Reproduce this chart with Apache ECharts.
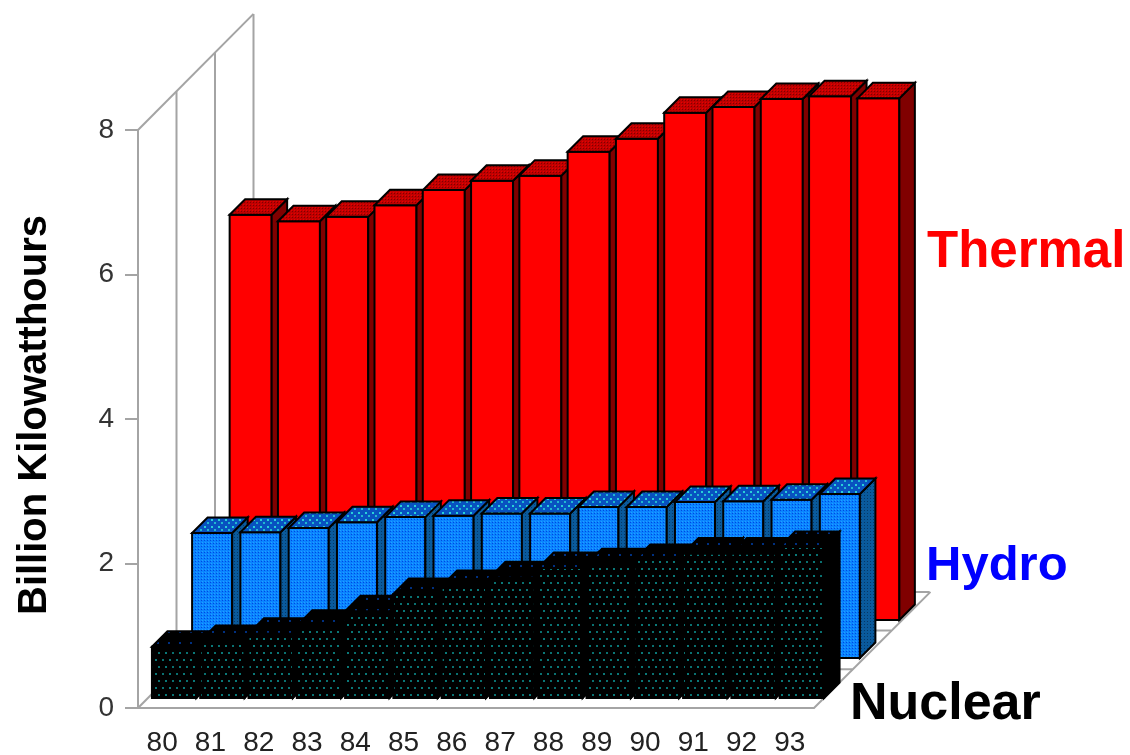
<!DOCTYPE html>
<html><head><meta charset="utf-8">
<style>html,body{margin:0;padding:0;background:#fff}#c{width:1130px;height:755px}</style>
<script src="https://cdn.jsdelivr.net/npm/echarts@6/dist/echarts.min.js"></script>
</head><body><div id="c"></div>
<script>
const categories = ['80','81','82','83','84','85','86','87','88','89','90','91','92','93'];
const thermal = [5.61,5.52,5.58,5.74,5.95,6.08,6.15,6.48,6.66,7.02,7.10,7.21,7.25,7.22];
const hydro = [1.73,1.74,1.80,1.88,1.95,1.97,2.00,2.00,2.09,2.09,2.16,2.17,2.19,2.27];
const nuclear = [0.71,0.79,0.89,1.00,1.20,1.44,1.55,1.67,1.80,1.85,1.91,2.00,2.00,2.09];
const seriesNames = ['Thermal','Hydro','Nuclear'];

function pat(size, bg, dots){
  const c=document.createElement('canvas');c.width=c.height=size;
  const g=c.getContext('2d');g.fillStyle=bg;g.fillRect(0,0,size,size);
  dots.forEach(d=>{g.fillStyle=d[2];g.fillRect(d[0],d[1],d[3]||1,d[3]||1);});
  return {image:c,repeat:'repeat'};
}
const looks = {
  Thermal:{front:'#ff0000',side:'#800000',w:0.87,top:pat(3,'#c00000',[[0,0,'#e80000'],[1,1,'#800000']])},
  Hydro:{front:pat(3,'#0a84ff',[[0,0,'#0048e0'],[1,2,'#20a0ff']]),w:0.83,
         side:pat(3,'#0a5a9c',[[0,0,'#053868']]),
         top:pat(7,'#0852c0',[[1,1,'#28d0d8',2],[4,4,'#20b8d0',2]])},
  Nuclear:{front:pat(14,'#000000',[[1,1,'#0a7878',2],[8,1,'#0a7070',2],[4,8,'#0a7070',2],[11,8,'#0a7878',2]]),w:0.92,
           side:'#000000',
           top:pat(11,'#000000',[[3,4,'#003080',2]])}
};
const shifts = {Thermal:[88.5,-88],Hydro:[50,-50],Nuclear:[12,-10]};
const depth = [15.5,-15.5];

function barItem(name){
  return function(params,api){
    const i=api.value(0), v=api.value(1);
    const top=api.coord([i,v]), base=api.coord([i,0]);
    const L=looks[name], w=api.size([1,0])[0]*L.w, s=shifts[name];
    const x0=top[0]+s[0]-w/2, x1=x0+w, yt=top[1]+s[1], yb=base[1]+s[1];
    const ln={stroke:'#000',lineWidth:2};
    return {type:'group',children:[
      {type:'rect',shape:{x:x0,y:yt,width:w,height:yb-yt},style:Object.assign({fill:L.front},ln)},
      {type:'polygon',shape:{points:[[x1,yt],[x1+depth[0],yt+depth[1]],[x1+depth[0],yb+depth[1]],[x1,yb]]},style:Object.assign({fill:L.side},ln)},
      {type:'polygon',shape:{points:[[x0,yt],[x0+depth[0],yt+depth[1]],[x1+depth[0],yt+depth[1]],[x1,yt]]},style:Object.assign({fill:L.top},ln)}
    ]};
  };
}
function frame(params,api){
  const r=params.coordSys, x=r.x, y=r.y, b=r.y+r.height, R=r.x+r.width;
  const dx=38.5, dy=-38.7, st={stroke:'#a4a4a4',lineWidth:2,fill:null};
  const kids=[];
  const line=(a,c,d,e)=>kids.push({type:'line',shape:{x1:a,y1:c,x2:d,y2:e},style:st});
  for(let k=0;k<=3;k++){
    line(x+k*dx,y+k*dy,x+k*dx,b+k*dy);
    line(x+k*dx,b+k*dy,R+k*dx,b+k*dy);
  }
  line(x,y,x+3*dx,y+3*dy);
  line(x,b,x+3*dx,b+3*dy);
  line(R,b,R+3*dx+1,b+3*dy);
  return {type:'group',children:kids};
}
const barSeries = [thermal,hydro,nuclear].map((d,k)=>({
  type:'custom',name:seriesNames[k],z:3+k,
  renderItem:barItem(seriesNames[k]),
  data:d.map((v,i)=>[i,v]),encode:{x:0,y:1},silent:true
}));
const chart=echarts.init(document.getElementById('c'),null,{renderer:'canvas'});
const labelFont='"Liberation Sans",Arial,sans-serif';
chart.setOption({
  animation:false,backgroundColor:'#fff',
  grid:{left:138,top:130,width:676,height:578,containLabel:false,outerBoundsMode:'none'},
  xAxis:{type:'category',data:categories,boundaryGap:true,
    axisLine:{lineStyle:{color:'#a4a4a4',width:2}},
    axisTick:{alignWithLabel:true,length:11,lineStyle:{color:'#a4a4a4',width:2}},
    axisLabel:{color:'#222',fontSize:28,fontFamily:labelFont,margin:21,interval:0},splitLine:{show:false}},
  yAxis:{type:'value',min:0,max:8,interval:2,
    name:'Billion Kilowatthours',nameLocation:'middle',nameGap:83,
    nameTextStyle:{fontFamily:labelFont,fontWeight:'bold',fontSize:40,color:'#000',padding:[0,0,0,8]},
    axisLine:{show:true,lineStyle:{color:'#a4a4a4',width:2}},
    axisTick:{show:true,length:13,lineStyle:{color:'#a4a4a4',width:2}},
    axisLabel:{color:'#333',fontSize:28,fontFamily:labelFont,margin:24},splitLine:{show:false}},
  series:[{type:'custom',z:1,silent:true,renderItem:frame,data:[[0,0]],encode:{x:0,y:1}}].concat(barSeries),
  graphic:[
    {type:'text',left:927,top:227,z:20,style:{text:seriesNames[0],fill:'#ff0000',font:'bold 51px '+labelFont}},
    {type:'text',left:926,top:542,z:20,style:{text:seriesNames[1],fill:'#0000ff',font:'bold 49px '+labelFont}},
    {type:'text',left:850,top:679,z:20,style:{text:seriesNames[2],fill:'#000',font:'bold 52px '+labelFont}}
  ]
});
</script></body></html>
